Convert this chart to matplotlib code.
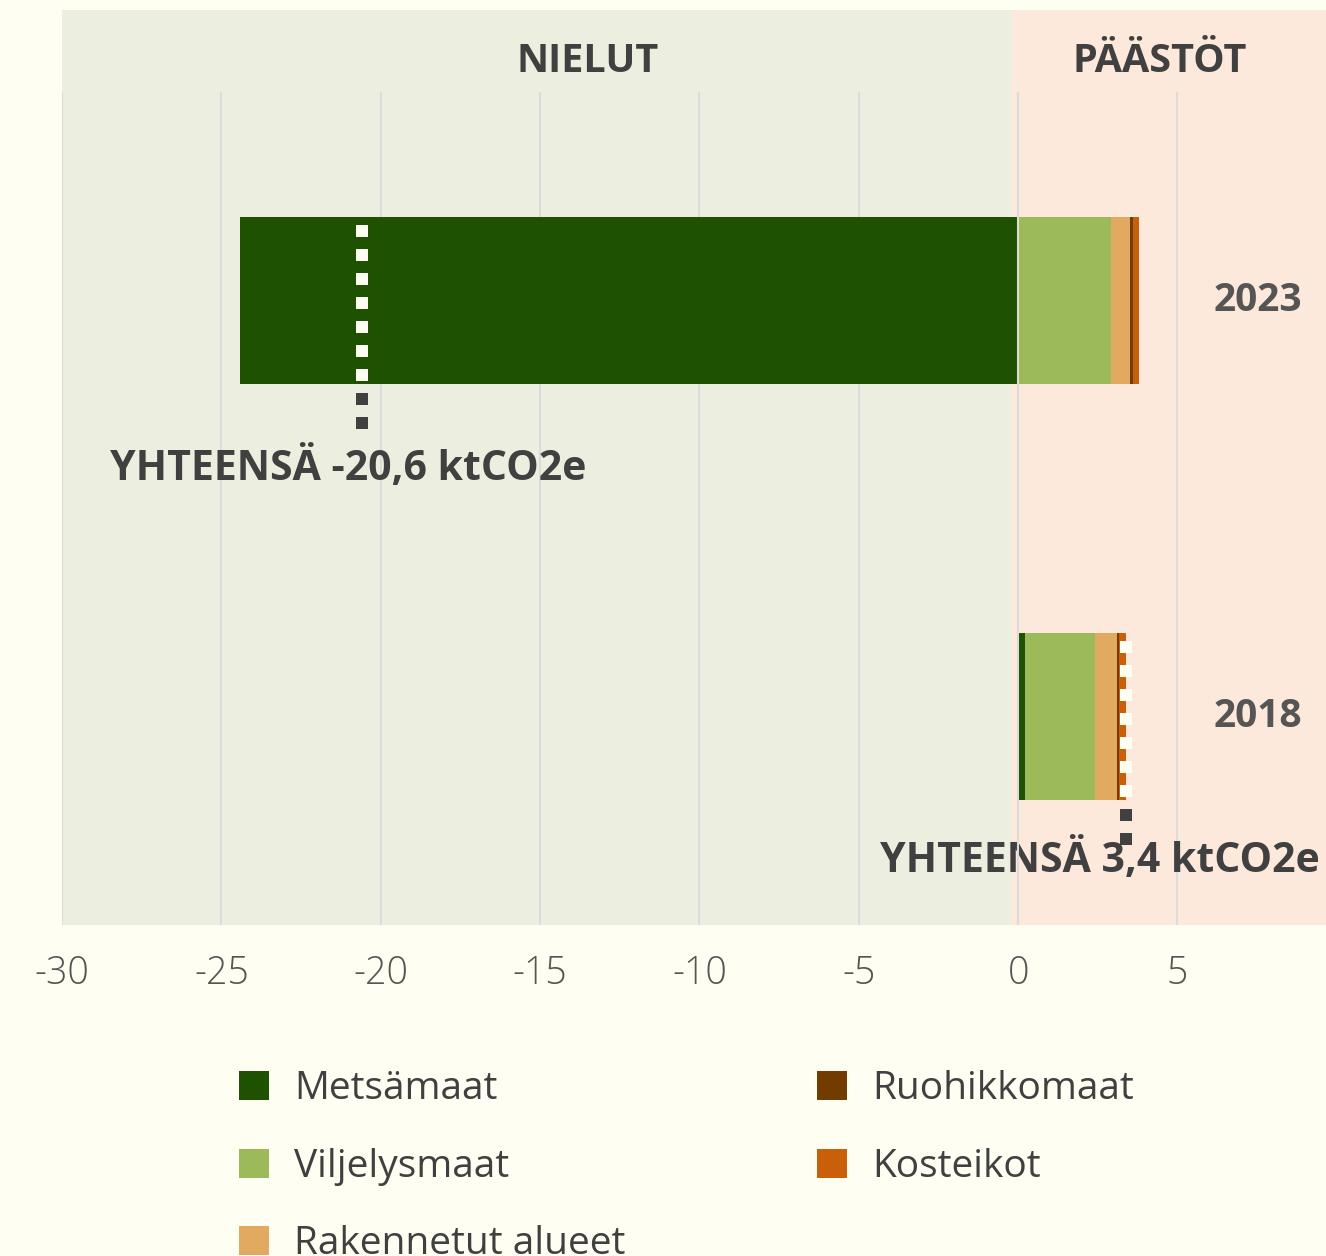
import matplotlib
matplotlib.use("Agg")
import matplotlib.pyplot as plt
from matplotlib.patches import Patch, Rectangle
import numpy as np

# Data (ktCO2e)
vuodet = ["2018", "2023"]
metsamaat = [0.2, -24.4]
viljelysmaat = [2.2, 2.9]
rakennetut = [0.7, 0.6]
ruohikkomaat = [0.08, 0.1]
kosteikot = [0.22, 0.2]
yhteensa = [3.4, -20.6]
yhteensa_tekstit = ["YHTEENSÄ 3,4 ktCO2e", "YHTEENSÄ -20,6 ktCO2e"]
x_ticks = [-30, -25, -20, -15, -10, -5, 0, 5]

sarjat = [
    ("Metsämaat", metsamaat, "#1E5200"),
    ("Viljelysmaat", viljelysmaat, "#9DBA5A"),
    ("Rakennetut alueet", rakennetut, "#E2AA60"),
    ("Ruohikkomaat", ruohikkomaat, "#723C00"),
    ("Kosteikot", kosteikot, "#C95F09"),
]

BG = "#FFFEF3"
GREEN_BG = "#ECEFE0"
PEACH_BG = "#FDE9DC"
TXT = "#404040"
FONT = "Open Sans"

plt.rcParams.update({
    "font.family": FONT,
    "figure.facecolor": BG,
})

W, H = 1326, 1256
fig = plt.figure(figsize=(W / 100, H / 100), dpi=100)

x0, x1 = 62, 1326
ax = fig.add_axes([x0 / W, (H - 925) / H, (x1 - x0) / W, 833 / H])
hdr = fig.add_axes([x0 / W, (H - 92) / H, (x1 - x0) / W, 82 / H], sharex=ax)

xmin, xmax = -30, 9.66
ax.set_xlim(xmin, xmax)
ax.set_ylim(0, 2)
split = -0.2

for a in (ax, hdr):
    a.axvspan(xmin, split, color=GREEN_BG, zorder=0, lw=0)
    a.axvspan(split, xmax, color=PEACH_BG, zorder=0, lw=0)
    for s in a.spines.values():
        s.set_visible(False)

hdr.set_ylim(0, 1)
hdr.tick_params(left=False, bottom=False, labelleft=False, labelbottom=False)
hdr.text(-13.5, 0.37, "NIELUT", ha="center", va="center", fontsize=28.5,
         fontweight="bold", color=TXT)
hdr.text(4.45, 0.37, "PÄÄSTÖT", ha="center", va="center", fontsize=28.5,
         fontweight="bold", color=TXT)

# gridlines
for t in x_ticks:
    ax.axvline(t, color="#DCDCDC", lw=1.5, zorder=1)
ax.axvline(0, color="#DCDCDC", lw=1.5, zorder=4)

y = np.array([0.5, 1.5])
h = 0.4
pos_base = np.zeros(2)
neg_base = np.zeros(2)
for name, vals, col in sarjat:
    vals = np.array(vals)
    left = np.where(vals >= 0, pos_base, neg_base)
    ax.barh(y, vals, left=left, height=h, color=col, label=name, zorder=2, lw=0)
    pos_base += np.where(vals >= 0, vals, 0)
    neg_base += np.where(vals < 0, vals, 0)

# total markers
lw_px = 12
lw_pt = lw_px * 72 / 100
label_dx = [-19, -10]       # points
label_dy = [0.145, 0.205]   # below bar bottom, data units
for i, tot in enumerate(yhteensa):
    top = y[i] + h / 2
    bot = y[i] - h / 2 - 0.13
    ls = (16 / lw_px, (1, 1))
    ax.plot([tot, tot], [top, bot], color=TXT, lw=lw_pt, ls=ls,
            dash_capstyle="butt", zorder=5)
    wl, = ax.plot([tot, tot], [top, bot], color=BG, lw=lw_pt, ls=ls,
                  dash_capstyle="butt", zorder=6)
    # valkoinen osa vain palkin sisällä
    clip = Rectangle((xmin, y[i] - h / 2), xmax - xmin, h, transform=ax.transData)
    wl.set_clip_path(clip)
    ax.annotate(yhteensa_tekstit[i], xy=(tot, y[i] - h / 2 - label_dy[i]),
                xytext=(label_dx[i], 0), textcoords="offset points",
                ha="center", va="center", fontsize=29.5, fontweight="bold",
                color=TXT, annotation_clip=False)
    ax.text(6.12, y[i], vuodet[i], ha="left", va="center", fontsize=28,
            fontweight="bold", color="#555555")

ax.set_yticks([])
ax.set_xticks(x_ticks)
ax.set_xticklabels([str(t) for t in x_ticks])
ax.tick_params(axis="x", length=0, pad=21, labelsize=27, labelcolor="#555555")
for lab in ax.get_xticklabels():
    lab.set_fontweight("light")

handles = [Patch(facecolor=c, edgecolor="none") for _, _, c in sarjat]
names = [n for n, _, _ in sarjat]
kw = dict(loc="upper left", frameon=False, fontsize=28, handlelength=0.77,
          handleheight=0.77, handletextpad=0.64, labelspacing=1.02,
          borderpad=0, borderaxespad=0, labelcolor=TXT)
leg1 = fig.legend(handles[:3], names[:3], bbox_to_anchor=(239 / W, 1 - 1070 / H), **kw)
leg2 = fig.legend(handles[3:], names[3:], bbox_to_anchor=(817 / W, 1 - 1070 / H), **kw)

fig.savefig("out.png", dpi=100, facecolor=BG)
